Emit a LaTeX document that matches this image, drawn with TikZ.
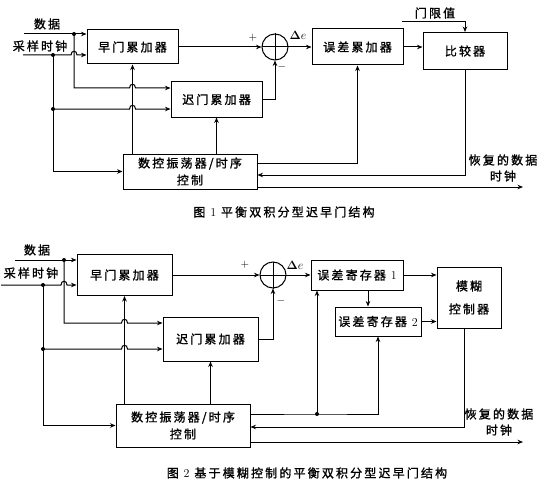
\documentclass[tikz,border=0pt]{standalone}
\usepackage{fontspec}
\usepackage{bm}
\newfontfamily\cjk[LetterSpace=18,FakeBold=1.2]{Noto Sans CJK SC}
\usetikzlibrary{arrows.meta,calc}

\begin{document}
\begin{tikzpicture}[x=1pt,y=-1pt,line width=1pt,>={Stealth[length=5.5pt,width=4.5pt]},
  box/.style={draw,rectangle,inner sep=0pt,align=center,font=\cjk\fontsize{12}{17}\selectfont},
  lbl/.style={inner sep=0pt,align=center,font=\cjk\fontsize{12}{16}\selectfont},
  sign/.style={inner sep=0pt,font=\fontsize{11}{12}\selectfont},
  delta/.style={inner sep=0pt,font=\fontsize{13}{14}\selectfont},
  summer/.style={draw,circle,inner sep=0pt,minimum size=26pt}]
\useasboundingbox (0,0) rectangle (549,487);

% ---------- figure 1 ----------
% blocks
\node[box,minimum width=91pt,minimum height=34pt] (early1) at (132.5,47) {早门累加器};
\node[box,minimum width=91pt,minimum height=35pt] (late1) at (216.5,99.5) {迟门累加器};
\node[summer] (sum1) at (275,47) {};
\node[box,minimum width=91pt,minimum height=36pt] (err1) at (357.5,47) {误差累加器};
\node[box,minimum width=84pt,minimum height=37pt] (cmp1) at (465,51) {比较器};
\node[box,minimum width=134pt,minimum height=35pt] (nco1) at (190,171.5) {数控振荡器/时序\\控制};
% texts
\node[lbl] (data1) at (47,24) {数据};
\node[lbl] (clk1) at (40,46) {采样时钟};
\node[lbl] (thr1) at (435,13) {门限值};
\node[lbl] (rec1) at (503,168) {恢复的数据\\时钟};
\node[sign] (plus1) at (253,38) {$+$};
\node[sign] (minus1) at (282,67) {$-$};
\node[delta] (de1) at (298,35) {$\bm{\Delta} e$};
\node[lbl] (cap1) at (284,212) {图\ {\rmfamily 1}\ 平衡双积分型迟早门结构};
% free ends and junctions
\coordinate (din1) at (24,34);
\coordinate (cin1) at (23,55);
\coordinate (dj1) at (74,34);
\coordinate (lin1) at (74,88);
\coordinate (cj1) at (53,55);
\coordinate (cj1b) at (53,109);
\coordinate (thin1) at (402,22);
\coordinate (out1) at (523,187);
\foreach \p in {dj1,cj1,cj1b} \fill (\p) circle[radius=2pt];
% data and clock in
\draw[->] (din1) -- (din1 -| early1.west);
\draw[->] (cin1) -- ($(dj1 |- cin1)+(-3,0)$) .. controls +(0,-5) and +(0,-5) .. ($(dj1 |- cin1)+(3,0)$) -- (cin1 -| early1.west);
\draw[->] (dj1) -- (lin1) -- ($(early1.south |- lin1)+(-3,0)$) .. controls +(0,-5) and +(0,-5) .. ($(early1.south |- lin1)+(3,0)$) -- (lin1 -| late1.west);
\draw[->] (cj1) |- (nco1.west);
\draw[->] (cj1b) -- ($(early1.south |- cj1b)+(-3,0)$) .. controls +(0,-5) and +(0,-5) .. ($(early1.south |- cj1b)+(3,0)$) -- (cj1b -| late1.west);
% nco to the gates
\draw[->] (early1.south |- nco1.north) -- (early1.south);
\draw[->] (late1.south |- nco1.north) -- (late1.south);
% summer
\draw[->] (early1.east) -- (sum1.west);
\draw[->] (late1.east) -| (sum1.south);
\draw (sum1.north) -- (sum1.south) (sum1.west) -- (sum1.east);
% error loop
\draw[->] (sum1.east) -- (err1.west);
\draw[->] (err1.east) -- (err1.east -| cmp1.west);
\draw[->] (thin1) -| (cmp1.north);
\draw[->] ([yshift=8.5pt]nco1.east) -| (err1.south);
\draw[->] (cmp1.south) |- ([yshift=-3.5pt]nco1.east);
\draw[->] ([yshift=-15.5pt]nco1.east) -- (out1);

% ---------- figure 2 ----------
% blocks
\node[box,minimum width=95pt,minimum height=41pt] (early2) at (124.5,275) {早门累加器};
\node[box,minimum width=95pt,minimum height=44pt] (late2) at (210.5,339) {迟门累加器};
\node[summer] (sum2) at (273,275) {};
\node[box,minimum width=92pt,minimum height=30pt] (reg1) at (357,275) {误差寄存器 {\rmfamily 1}};
\node[box,minimum width=86pt,minimum height=29pt] (reg2) at (378,321.5) {误差寄存器 {\rmfamily 2}};
\node[box,minimum width=64pt,minimum height=61pt] (fuzzy) at (469,297.5) {模糊\\[6pt]控制器};
\node[box,minimum width=134pt,minimum height=43pt] (nco2) at (183,425.5) {数控振荡器/时序\\控制};
% texts
\node[lbl] (data2) at (37,250) {数据};
\node[lbl] (clk2) at (31,273) {采样时钟};
\node[lbl] (rec2) at (499,422) {恢复的数据\\时钟};
\node[sign] (plus2) at (245,265) {$+$};
\node[sign] (minus2) at (281,301) {$-$};
\node[delta] (de2) at (295,265) {$\bm{\Delta} e$};
\node[lbl] (cap2) at (307,473) {图\ {\rmfamily 2}\ 基于模糊控制的平衡双积分型迟早门结构};
% free ends and junctions
\coordinate (din2) at (15,260);
\coordinate (cin2) at (1,285);
\coordinate (dj2) at (64,260);
\coordinate (lin2) at (64,323);
\coordinate (cj2) at (43,285);
\coordinate (cj2b) at (43,349);
\coordinate (j2) at (317,414);
\coordinate (out2) at (523,442);
\coordinate (r1s) at ($(reg1.south)+(11,0)$);
\coordinate (fz2) at ($(fuzzy.south)+(-5,0)$);
\foreach \p in {dj2,cj2,cj2b,j2} \fill (\p) circle[radius=2pt];
% data and clock in
\draw[->] (din2) -- (din2 -| early2.west);
\draw[->] (cin2) -- ($(dj2 |- cin2)+(-3,0)$) .. controls +(0,-5) and +(0,-5) .. ($(dj2 |- cin2)+(3,0)$) -- (cin2 -| early2.west);
\draw[->] (dj2) -- (lin2) -- ($(early2.south |- lin2)+(-3,0)$) .. controls +(0,-5) and +(0,-5) .. ($(early2.south |- lin2)+(3,0)$) -- (lin2 -| late2.west);
\draw[->] (cj2) |- (nco2.west);
\draw[->] (cj2b) -- ($(early2.south |- cj2b)+(-3,0)$) .. controls +(0,-5) and +(0,-5) .. ($(early2.south |- cj2b)+(3,0)$) -- (cj2b -| late2.west);
% nco to the gates
\draw[->] (early2.south |- nco2.north) -- (early2.south);
\draw[->] (late2.south |- nco2.north) -- (late2.south);
% summer
\draw[->] (early2.east) -- (sum2.west);
\draw[->] (late2.east) -| (sum2.south);
\draw (sum2.north) -- (sum2.south) (sum2.west) -- (sum2.east);
% registers and fuzzy control
\draw[->] (sum2.east) -- (reg1.west);
\draw[->] (reg1.east) -- (reg1.east -| fuzzy.west);
\draw[->] (r1s) -- (r1s |- reg2.north);
\draw[->] (reg2.east) -- (reg2.east -| fuzzy.west);
\draw[->] ([yshift=11.5pt]nco2.east) -- (j2) -| (reg2.south);
\draw[->] (j2) -- (j2 |- reg1.south);
\draw[->] (fz2) |- ([yshift=-1.5pt]nco2.east);
\draw[->] ([yshift=-16.5pt]nco2.east) -- (out2);
\end{tikzpicture}
\end{document}
